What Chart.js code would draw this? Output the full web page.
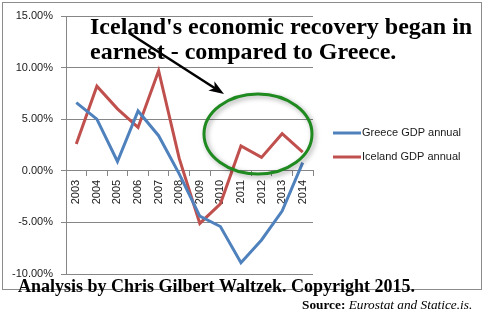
<!DOCTYPE html>
<html>
<head>
<meta charset="utf-8">
<script src="https://cdn.jsdelivr.net/npm/chart.js@4"></script>
<style>
  body { margin: 0; background: #fff; }
</style>
</head>
<body>
<canvas id="gdpChart" width="483" height="331"></canvas>
<script>
const years = ["2003", "2004", "2005", "2006", "2007", "2008", "2009", "2010", "2011", "2012", "2013", "2014"];
const greeceGdp = [6.6, 5.0, 0.9, 5.8, 3.4, -0.3, -4.4, -5.4, -8.9, -6.7, -3.9, 0.8];
const icelandGdp = [2.6, 8.2, 6.0, 4.2, 9.7, 1.2, -5.1, -3.2, 2.4, 1.3, 3.6, 1.8];
const yTicks = [-10, -5, 0, 5, 10, 15];

const gridGray = "#868686";
const labelFont = { family: "Liberation Sans", size: 11 };

// extra drawing: frame, headline, arrow, highlight ring, legend, credits
const decorations = {
  id: "decorations",
  beforeDraw(chart) {
    const ctx = chart.ctx;
    ctx.save();
    ctx.fillStyle = "#fff";
    ctx.fillRect(0, 0, chart.width, chart.height);
    ctx.strokeStyle = "#8c8c8c";
    ctx.lineWidth = 1;
    ctx.strokeRect(2.5, 2.5, 479, 287);
    ctx.restore();
  },
  afterDraw(chart) {
    const ctx = chart.ctx;
    ctx.save();

    // headline
    ctx.fillStyle = "#000";
    ctx.font = "bold 24px 'Liberation Serif'";
    ctx.textBaseline = "alphabetic";
    ctx.fillText("Iceland's economic recovery began in", 90, 34);
    ctx.fillText("earnest - compared to Greece.", 90, 59);

    // arrow
    const x0 = 129, y0 = 33, x1 = 224, y1 = 94;
    const ang = Math.atan2(y1 - y0, x1 - x0);
    ctx.strokeStyle = "#000";
    ctx.lineWidth = 2.5;
    ctx.beginPath();
    ctx.moveTo(x0, y0);
    ctx.lineTo(x1 - 8 * Math.cos(ang), y1 - 8 * Math.sin(ang));
    ctx.stroke();
    ctx.beginPath();
    ctx.moveTo(x1, y1);
    ctx.lineTo(x1 - 16 * Math.cos(ang - 0.35), y1 - 16 * Math.sin(ang - 0.35));
    ctx.lineTo(x1 - 11 * Math.cos(ang), y1 - 11 * Math.sin(ang));
    ctx.lineTo(x1 - 16 * Math.cos(ang + 0.35), y1 - 16 * Math.sin(ang + 0.35));
    ctx.closePath();
    ctx.fillStyle = "#000";
    ctx.fill();

    // ring around the recent Iceland years
    ctx.save();
    ctx.shadowColor = "rgba(0,0,0,0.35)";
    ctx.shadowBlur = 5;
    ctx.shadowOffsetX = 2;
    ctx.shadowOffsetY = 2;
    ctx.strokeStyle = "#1f8a1f";
    ctx.lineWidth = 3;
    ctx.beginPath();
    ctx.ellipse(258, 134, 54, 40, 0, 0, Math.PI * 2);
    ctx.stroke();
    ctx.restore();

    // legend
    ctx.font = "11px 'Liberation Sans'";
    ctx.textBaseline = "middle";
    chart.data.datasets.forEach((ds, i) => {
      const y = 133 + i * 24;
      ctx.strokeStyle = ds.borderColor;
      ctx.lineWidth = 3;
      ctx.beginPath();
      ctx.moveTo(333, y);
      ctx.lineTo(361, y);
      ctx.stroke();
      ctx.fillStyle = "#1a1a1a";
      ctx.fillText(ds.label, 362, y);
    });

    // credits
    ctx.fillStyle = "#000";
    ctx.textBaseline = "alphabetic";
    ctx.font = "bold 18px 'Liberation Serif'";
    ctx.fillText("Analysis by Chris Gilbert Waltzek. Copyright 2015.", 18, 292);
    ctx.font = "bold 13.3px 'Liberation Serif'";
    const src = "Source: ";
    ctx.fillText(src, 302, 309);
    const w = ctx.measureText(src).width;
    ctx.font = "italic 13.3px 'Liberation Serif'";
    ctx.fillText("Eurostat and Statice.is.", 302 + w, 309);

    ctx.restore();
  }
};

new Chart(document.getElementById("gdpChart"), {
  type: "line",
  data: {
    labels: years,
    datasets: [
      {
        label: "Greece GDP annual",
        data: greeceGdp,
        borderColor: "#4f81bd",
        backgroundColor: "#4f81bd",
        borderWidth: 3,
        pointRadius: 0,
        tension: 0,
      },
      {
        label: "Iceland GDP annual",
        data: icelandGdp,
        borderColor: "#c0504d",
        backgroundColor: "#c0504d",
        borderWidth: 3,
        pointRadius: 0,
        tension: 0,
      },
    ],
  },
  options: {
    responsive: false,
    animation: false,
    layout: { padding: { left: 0, top: 16, right: 170, bottom: 57 } },
    plugins: {
      legend: { display: false },
      tooltip: { enabled: false },
    },
    scales: {
      x: {
        type: "category",
        position: { y: 0 },
        offset: true,
        grid: {
          display: true,
          drawOnChartArea: false,
          drawTicks: true,
          tickLength: 5,
          offset: true,
          color: gridGray,
        },
        border: { display: true, color: gridGray },
        ticks: {
          minRotation: 90,
          maxRotation: 90,
          padding: 4,
          font: labelFont,
          color: "#1a1a1a",
        },
      },
      y: {
        min: -10,
        max: 15,
        afterBuildTicks: (scale) => {
          scale.ticks = yTicks.map((v) => ({ value: v }));
        },
        afterFit: (scale) => {
          scale.width = 66;
        },
        grid: { color: gridGray, tickLength: 5 },
        border: { color: gridGray },
        ticks: {
          padding: 8,
          font: labelFont,
          color: "#1a1a1a",
          callback: (v) => v.toFixed(2) + "%",
        },
      },
    },
  },
  plugins: [decorations],
});
</script>
</body>
</html>
